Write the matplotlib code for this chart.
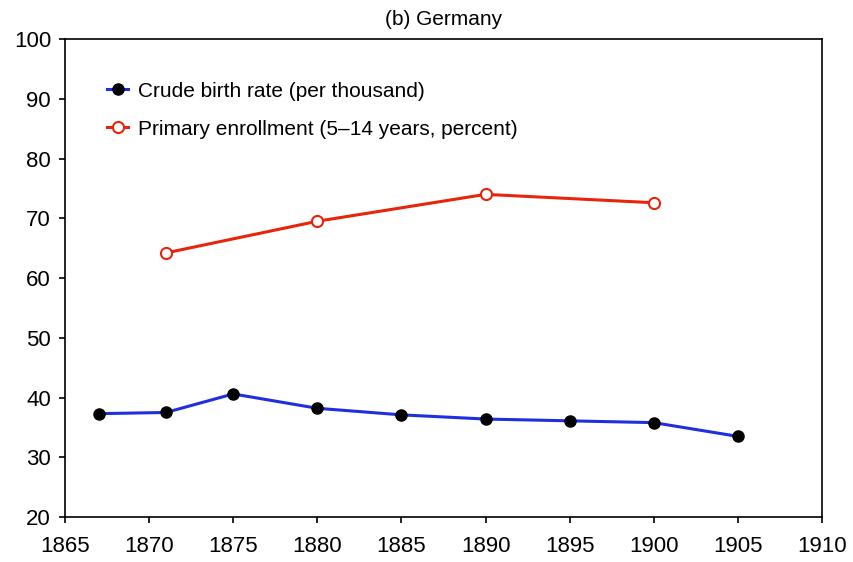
import numpy as np
import matplotlib
matplotlib.use("Agg")
import matplotlib.pyplot as plt
from matplotlib.legend_handler import HandlerLine2D

plt.rcParams['font.family'] = ['Liberation Sans', 'DejaVu Sans']

birth_years = [1867, 1871, 1875, 1880, 1885, 1890, 1895, 1900, 1905]
birth_rate = [37.3, 37.5, 40.6, 38.2, 37.1, 36.4, 36.1, 35.8, 33.5]

enroll_years = [1871, 1880, 1890, 1900]
enrollment = [64.2, 69.5, 74.0, 72.6]

xticks = list(range(1865, 1911, 5))
yticks = list(range(20, 101, 10))


class EndMarker(HandlerLine2D):
    # legend handle with the marker at the right end of the line
    def get_xdata(self, legend, xdescent, ydescent, width, height, fontsize):
        xdata = np.array([-xdescent, -xdescent + width])
        return xdata, np.array([-xdescent + width])


fig = plt.figure(figsize=(8.54, 5.62), dpi=100)
ax = fig.add_axes([0.0761, 0.080, 0.8864, 0.8506])

ax.plot(birth_years, birth_rate, color='#1f2fe0', lw=2.2, marker='o', ms=8,
        mfc='black', mec='black', label='Crude birth rate (per thousand)')
ax.plot(enroll_years, enrollment, color='#e8250c', lw=2.2, marker='o', ms=8,
        mfc='white', mec='#e8250c', mew=1.5,
        label='Primary enrollment (5\u201314 years, percent)')

ax.set_xlim(1865, 1910)
ax.set_ylim(20, 100)
ax.set_xticks(xticks)
ax.set_yticks(yticks)
ax.tick_params(labelsize=16, length=4, width=1.2, direction='out')
ax.tick_params(axis='x', pad=10)
ax.tick_params(axis='y', pad=6)
for s in ax.spines.values():
    s.set_linewidth(1.2)

ax.set_title('(b) Germany', fontsize=15, pad=10)

ax.legend(loc='upper left', bbox_to_anchor=(0.045, 0.928), frameon=False,
          fontsize=15, handlelength=1.0, handletextpad=0.45, labelspacing=0.9,
          borderaxespad=0, handler_map={l: EndMarker() for l in ax.get_lines()})

fig.savefig('out.png', dpi=100)
